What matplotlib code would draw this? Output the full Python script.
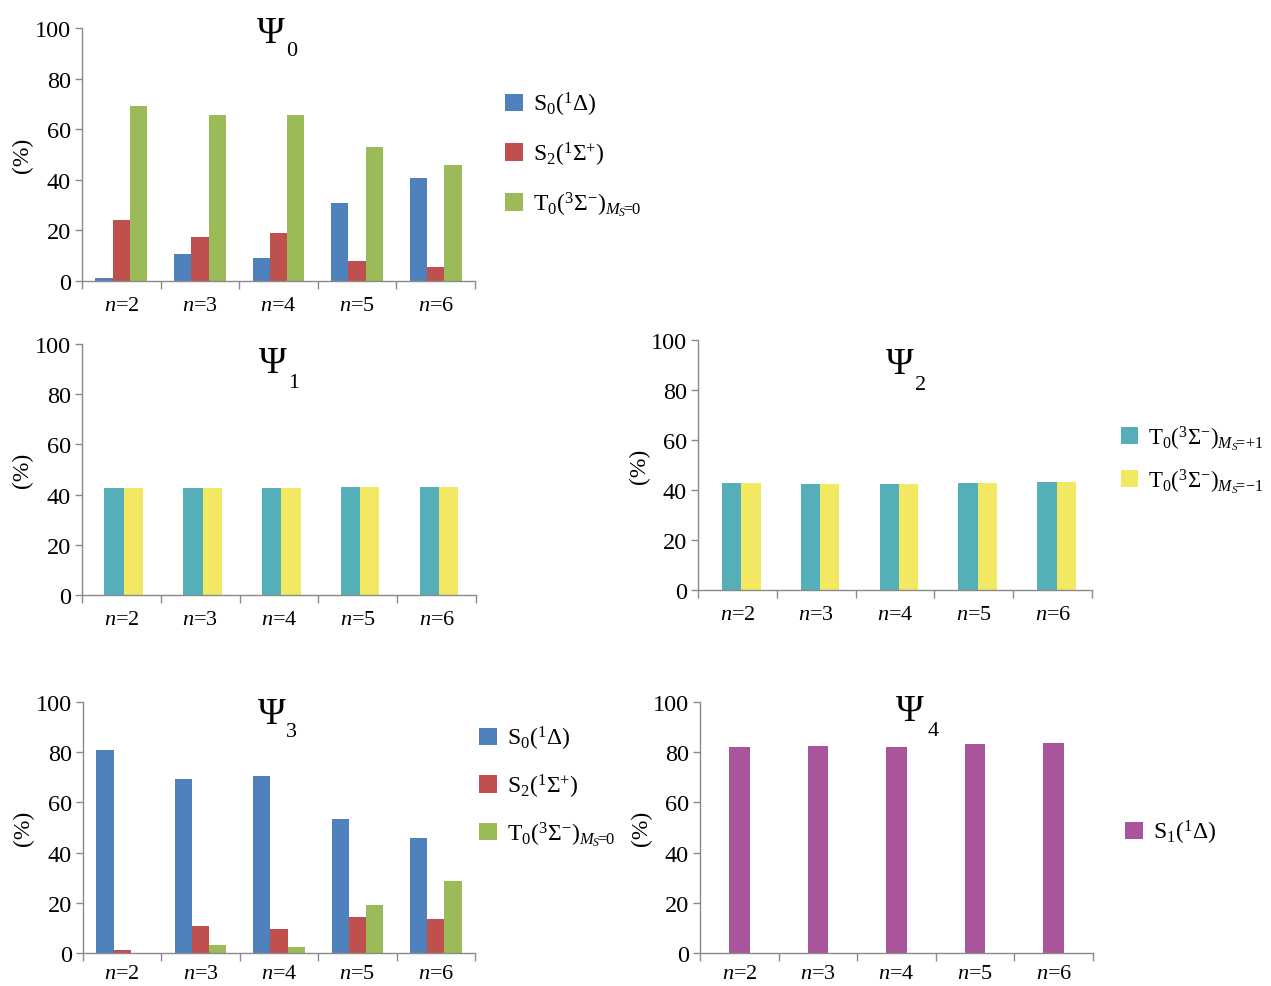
import matplotlib
matplotlib.use("Agg")
import matplotlib.pyplot as plt
import numpy as np

plt.rcParams['font.family'] = ['Liberation Serif', 'DejaVu Serif']
plt.rcParams['mathtext.fontset'] = 'custom'
plt.rcParams['mathtext.rm'] = 'Liberation Serif'
plt.rcParams['mathtext.it'] = 'Liberation Serif:italic'
plt.rcParams['mathtext.bf'] = 'Liberation Serif:bold'

# ---------------- data ----------------
categories = [r'$n$=2', r'$n$=3', r'$n$=4', r'$n$=5', r'$n$=6']

psi0_S0 = [1.0, 10.5, 9.1, 31.0, 40.6]
psi0_S2 = [24.3, 17.5, 19.1, 7.9, 5.4]
psi0_T0 = [69.0, 65.5, 65.7, 53.1, 45.8]

psi1_Tp = [42.8, 42.8, 42.6, 42.9, 43.1]
psi1_Tm = [42.8, 42.8, 42.6, 42.9, 43.1]

psi2_Tp = [42.7, 42.6, 42.5, 43.0, 43.3]
psi2_Tm = [42.7, 42.6, 42.5, 43.0, 43.3]

psi3_S0 = [80.7, 69.4, 70.5, 53.3, 45.9]
psi3_S2 = [1.3, 10.8, 9.7, 14.2, 13.6]
psi3_T0 = [0.0, 3.1, 2.3, 19.0, 28.7]

psi4_S1 = [81.9, 82.6, 82.1, 83.4, 83.8]

lab_S0 = r'$\mathrm{S_0(^1\Delta)}$'
lab_S2 = r'$\mathrm{S_2(^1\Sigma^{+})}$'
lab_T0 = r'$\mathrm{T_0(^3\Sigma^{-})}_{M_S\!\!=\!\!0}$'
lab_Tp = r'$\mathrm{T_0(^3\Sigma^{-})}_{M_S\!\!=\!\!+\!1}$'
lab_Tm = r'$\mathrm{T_0(^3\Sigma^{-})}_{M_S\!\!=\!\!-\!1}$'
lab_S1 = r'$\mathrm{S_1(^1\Delta)}$'

C_BLUE = '#4F81BD'
C_RED = '#C0504D'
C_GREEN = '#9BBB59'
C_TEAL = '#55AFB8'
C_YEL = '#F2E861'
C_PURP = '#A9559C'

W, H = 1271, 987
fig = plt.figure(figsize=(W / 100, H / 100), dpi=100)


def px_axes(l, r, t, b):
    return fig.add_axes([l / W, 1 - b / H, (r - l) / W, (b - t) / H])


def style(ax, xpad=11, ylab_x=-0.125):
    ax.set_xlim(-0.5, 4.5)
    ax.set_ylim(0, 100)
    ax.set_yticks(np.arange(0, 101, 20))
    ax.set_xticks(np.arange(-0.5, 4.6, 1.0))
    ax.set_xticklabels([])
    ax.set_xticks(np.arange(5), minor=True)
    ax.set_xticklabels(categories, minor=True)
    ax.tick_params(axis='x', which='major', length=6, color='#8a8a8a', width=1)
    ax.tick_params(axis='x', which='minor', length=0, pad=xpad, labelsize=16)
    ax.tick_params(axis='y', length=5, color='#8a8a8a', width=1, labelsize=17.5, pad=3)
    for s in ['top', 'right']:
        ax.spines[s].set_visible(False)
    for s in ['left', 'bottom']:
        ax.spines[s].set_color('#8a8a8a')
        ax.spines[s].set_linewidth(1)
    ax.set_ylabel('(%)', fontsize=17)
    ax.yaxis.set_label_coords(ylab_x, 0.5)


def title(x, y, sub, sx, sy):
    fig.text(x / W, 1 - y / H, r'$\Psi$', fontsize=27, ha='center', va='center')
    fig.text(sx / W, 1 - sy / H, sub, fontsize=16, ha='center', va='center')


def legend(handles, labels, x, y, spacing, fs=17):
    fig.legend(handles, labels, loc='center left', bbox_to_anchor=(x / W, 1 - y / H),
               frameon=False, fontsize=fs, handlelength=0.75, handleheight=0.75,
               handletextpad=0.45, labelspacing=spacing, borderpad=0, borderaxespad=0)


x = np.arange(5)

# ---- Psi0 ----
ax0 = px_axes(82, 475, 29, 282)
w3 = 0.22
b1 = ax0.bar(x - w3, psi0_S0, w3, color=C_BLUE)
b2 = ax0.bar(x, psi0_S2, w3, color=C_RED)
b3 = ax0.bar(x + w3, psi0_T0, w3, color=C_GREEN)
style(ax0)
title(271, 34, '0', 292, 51)
legend([b1, b2, b3], [lab_S0, lab_S2, lab_T0], 505, 155, 0.92)

# ---- Psi1 ----
ax1 = px_axes(82, 476, 345, 596)
w2 = 0.245
t1 = ax1.bar(x - w2 / 2 + 0.03, psi1_Tp, w2, color=C_TEAL)
t2 = ax1.bar(x + w2 / 2 + 0.03, psi1_Tm, w2, color=C_YEL)
style(ax1)
title(273, 364, '1', 294, 383)

# ---- Psi2 ----
ax2 = px_axes(698, 1092, 341, 591)
u1 = ax2.bar(x - w2 / 2 + 0.05, psi2_Tp, w2, color=C_TEAL)
u2 = ax2.bar(x + w2 / 2 + 0.05, psi2_Tm, w2, color=C_YEL)
style(ax2, ylab_x=-0.122)
title(900, 365, '2', 921, 385)
legend([u1, u2], [lab_Tp, lab_Tm], 1121, 460, 0.62, fs=16.5)

# ---- Psi3 ----
ax3 = px_axes(83, 475, 703, 954)
c1 = ax3.bar(x - w3, psi3_S0, w3, color=C_BLUE)
c2 = ax3.bar(x, psi3_S2, w3, color=C_RED)
c3 = ax3.bar(x + w3, psi3_T0, w3, color=C_GREEN)
style(ax3, xpad=8)
title(272, 715, '3', 291, 733)
legend([c1, c2, c3], [lab_S0, lab_S2, lab_T0], 479, 787, 0.82)

# ---- Psi4 ----
ax4 = px_axes(700, 1093, 703, 954)
p1 = ax4.bar(x, psi4_S1, 0.26, color=C_PURP)
style(ax4, xpad=8, ylab_x=-0.122)
title(910, 712, '4', 933, 731)
legend([p1], [lab_S1], 1125, 833, 0.8)

fig.savefig('out.png', dpi=100)
